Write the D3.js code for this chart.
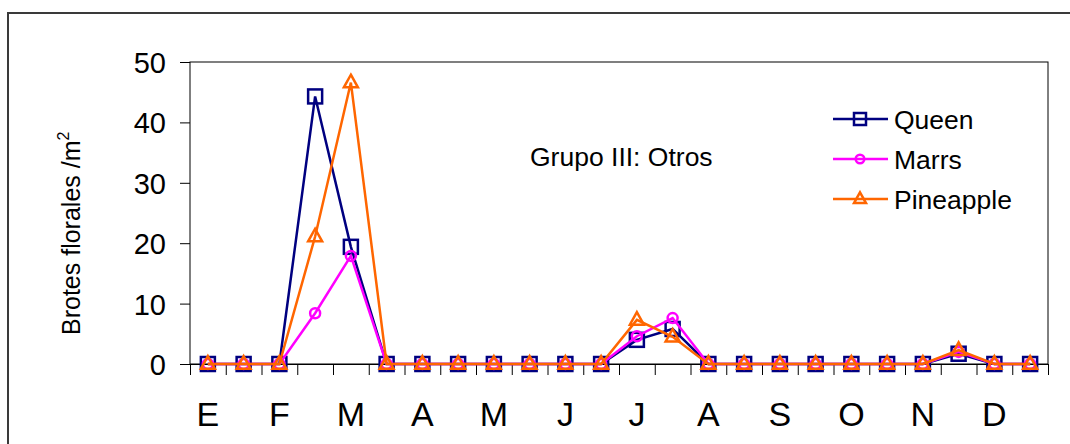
<!DOCTYPE html>
<html>
<head>
<meta charset="utf-8">
<script src="https://cdn.jsdelivr.net/npm/d3@7"></script>
<style>
  body { margin: 0; background: #fff; }
  text { font-family: Arial, "Liberation Sans", sans-serif; fill: #000; }
</style>
</head>
<body>
<div id="chart"></div>
<script>
// month labels, one per two readings (first and second half of month)
var months = ["E", "F", "M", "A", "M", "J", "J", "A", "S", "O", "N", "D"];
var yTicks = [0, 10, 20, 30, 40, 50];

var queen     = [0, 0, 0, 44.3, 19.4, 0, 0, 0, 0, 0, 0, 0, 4.0, 5.8, 0, 0, 0, 0, 0, 0, 0, 1.7, 0, 0];
var marrs     = [0, 0, 0, 8.4, 17.9, 0, 0, 0, 0, 0, 0, 0, 4.6, 7.6, 0, 0, 0, 0, 0, 0, 0, 2.0, 0, 0];
var pineapple = [0, 0, 0, 21.1, 46.6, 0, 0, 0, 0, 0, 0, 0, 7.3, 4.5, 0, 0, 0, 0, 0, 0, 0, 2.3, 0, 0];

var seriesNames = ["Queen", "Marrs", "Pineapple"];
var seriesColors = ["#000080", "#ff00ff", "#ff6600"];
var seriesShapes = ["square", "circle", "triangle"];

var width = 1070, height = 444;
// plot area edges
var plotLeft = 190, plotRight = 1048, plotTop = 62, plotBottom = 364;

var svg = d3.select("#chart").append("svg")
  .attr("width", width)
  .attr("height", height);

// outer frame (runs off the right and bottom edge)
svg.append("rect")
  .attr("x", 8).attr("y", 13)
  .attr("width", 1100).attr("height", 500)
  .attr("fill", "none")
  .attr("stroke", "#3a3a3a")
  .attr("stroke-width", 2);

var x = d3.scaleBand().domain(d3.range(24)).range([plotLeft, plotRight]);
var xEdge = d3.scaleLinear().domain([0, 24]).range([plotLeft, plotRight]);
var y = d3.scaleLinear().domain([0, 50]).range([plotBottom, plotTop]);

// plot border
svg.append("rect")
  .attr("x", plotLeft).attr("y", plotTop)
  .attr("width", plotRight - plotLeft).attr("height", plotBottom - plotTop)
  .attr("fill", "none")
  .attr("stroke", "#000")
  .attr("stroke-width", 1);

// y axis
var yAxis = svg.append("g")
  .attr("transform", "translate(" + plotLeft + ",0)")
  .call(d3.axisLeft(y).tickValues(yTicks).tickSize(10).tickPadding(14));
yAxis.select(".domain").remove();
yAxis.selectAll("text").style("font-size", "29px").attr("dy", "0.36em");

// x axis ticks at category edges
var xTickAxis = svg.append("g")
  .attr("transform", "translate(0," + plotBottom + ")")
  .call(d3.axisBottom(xEdge).tickValues(d3.range(25)).tickFormat("").tickSize(11));
xTickAxis.select(".domain").attr("stroke", "#000");

// month labels
var xLabelAxis = svg.append("g")
  .attr("transform", "translate(0," + plotBottom + ")")
  .call(d3.axisBottom(x)
    .tickValues(d3.range(0, 24, 2))
    .tickFormat(function(i) { return months[i / 2]; })
    .tickSize(0).tickPadding(38));
xLabelAxis.select(".domain").remove();
xLabelAxis.selectAll("text").style("font-size", "34px");

// y axis title
var yTitle = svg.append("text")
  .attr("transform", "translate(80,335) rotate(-90)")
  .style("font-size", "25px");
yTitle.append("tspan").text("Brotes florales /m");
yTitle.append("tspan").text("2").style("font-size", "16px").attr("dy", "-11");

// annotation
svg.append("text")
  .attr("x", 530).attr("y", 166)
  .style("font-size", "26.5px")
  .text("Grupo III: Otros");

function drawMarker(g, shape, color, size) {
  if (shape === "square") {
    g.append("rect")
      .attr("x", -size / 2).attr("y", -size / 2)
      .attr("width", size).attr("height", size)
      .attr("fill", "none").attr("stroke", color).attr("stroke-width", 2.5);
  } else if (shape === "circle") {
    g.append("circle")
      .attr("r", size / 2.8)
      .attr("fill", "none").attr("stroke", color).attr("stroke-width", 2.5);
  } else {
    var h = size * 0.9;
    g.append("path")
      .attr("d", "M0," + (-h * 0.62) + "L" + (size / 2) + "," + (h * 0.38) + "L" + (-size / 2) + "," + (h * 0.38) + "Z")
      .attr("fill", "none").attr("stroke", color).attr("stroke-width", 2.5);
  }
}

var allSeries = [queen, marrs, pineapple];
var line = d3.line()
  .x(function(d, i) { return x(i) + x.bandwidth() / 2; })
  .y(function(d) { return y(d); });

allSeries.forEach(function(values, s) {
  var g = svg.append("g");
  g.append("path")
    .datum(values)
    .attr("d", line)
    .attr("fill", "none")
    .attr("stroke", seriesColors[s])
    .attr("stroke-width", 2.5);
  g.selectAll("g.pt")
    .data(values)
    .enter()
    .append("g")
    .attr("class", "pt")
    .attr("transform", function(d, i) {
      return "translate(" + (x(i) + x.bandwidth() / 2) + "," + y(d) + ")";
    })
    .each(function() { drawMarker(d3.select(this), seriesShapes[s], seriesColors[s], 14); });
});

// legend
var legend = svg.append("g");
seriesNames.forEach(function(name, s) {
  var ly = 119 + s * 40;
  legend.append("line")
    .attr("x1", 833).attr("x2", 888)
    .attr("y1", ly).attr("y2", ly)
    .attr("stroke", seriesColors[s]).attr("stroke-width", 2.5);
  var m = legend.append("g").attr("transform", "translate(860," + ly + ")");
  drawMarker(m, seriesShapes[s], seriesColors[s], 12);
  legend.append("text")
    .attr("x", 894).attr("y", ly)
    .attr("dy", "0.36em")
    .style("font-size", "26.5px")
    .text(name);
});
</script>
</body>
</html>
